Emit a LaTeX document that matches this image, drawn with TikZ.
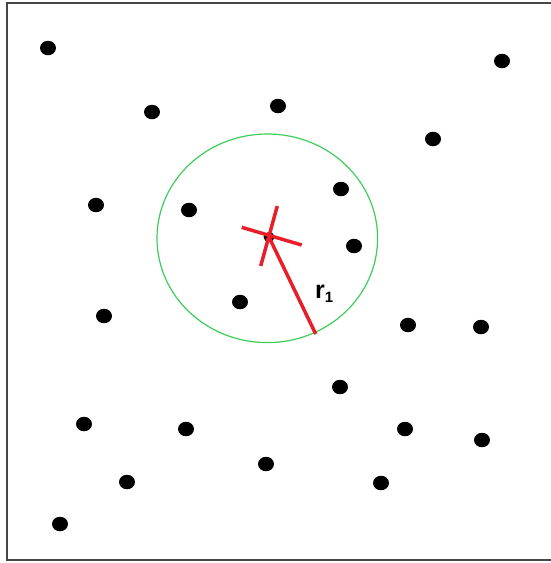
\documentclass[tikz,border=0pt]{standalone}
\usepackage{fontspec}
\setmainfont{Liberation Sans}
\usetikzlibrary{shapes.geometric}
\definecolor{ringgreen}{RGB}{60,205,90}
\definecolor{crossred}{RGB}{232,30,40}
\definecolor{framegray}{RGB}{70,70,70}
\begin{document}
\begin{tikzpicture}[x=1pt,y=-1pt,
  dot/.style={ellipse,fill=black,minimum width=16pt,minimum height=14.5pt,inner sep=0pt},
  redline/.style={draw=crossred,line width=3.5pt}]
\useasboundingbox (0,0) rectangle (551,563);
\draw[framegray,line width=2pt] (552,3) -- (7,3) -- (7,560) -- (552,560);
\foreach \x/\y [count=\i] in {48/48,502/61,152/112,278/106,433/139,341/189,96/205,189/210,354/246,240/302,104/316,408/325,481/327,340/387,84/424,186/429,405/429,482/440,266/464,127/482,381/483,60/524}
  \node[dot] (d\i) at (\x,\y) {};
\draw[ringgreen,line width=1.2pt] (267.3,238.3) ellipse [x radius=110.3, y radius=104.3];
\node[ellipse,fill=black,minimum width=11pt,minimum height=10pt,inner sep=0pt] (c) at (269,237) {};
\coordinate (e) at (315.7,334);
\coordinate (h1) at (241.7,227.3);
\coordinate (h2) at (301.7,245);
\coordinate (v1) at (277.3,206);
\coordinate (v2) at (260.7,266);
\draw[redline] (h1) -- (h2);
\draw[redline] (v1) -- (v2);
\draw[redline] (c.center) -- (e);
\node[anchor=base west,inner sep=0pt,font=\fontsize{25}{25}\selectfont\bfseries] (lbl) at (315,298.5) {r\textsubscript{\fontsize{15}{15}\selectfont 1}};
\end{tikzpicture}
\end{document}
